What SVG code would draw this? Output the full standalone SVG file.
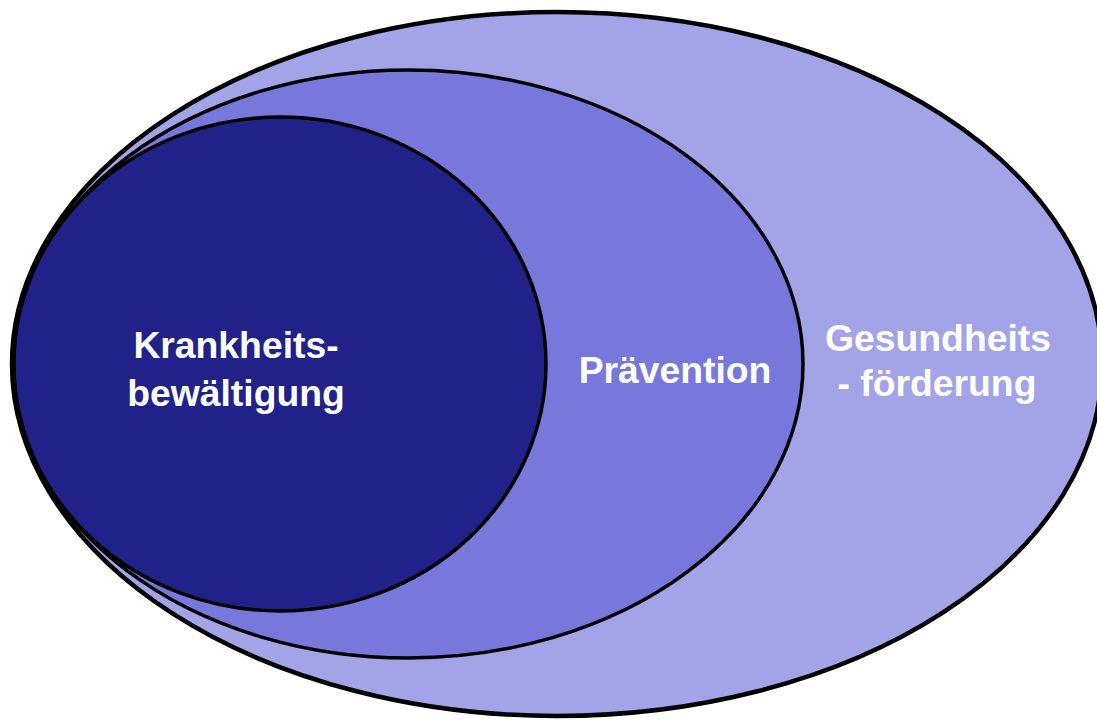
<svg xmlns="http://www.w3.org/2000/svg" width="1097" height="720" viewBox="0 0 1097 720">
<style>
.lbl{font-family:"Liberation Sans",Arial,sans-serif;font-weight:bold;font-size:37.3px;fill:#ffffff;text-anchor:middle}
.ring{stroke:#000000}
</style>
<rect width="1097" height="720" fill="#ffffff"/>
<g id="gesundheitsfoerderung">
<ellipse class="ring" cx="557" cy="364" rx="545" ry="352" fill="#A3A3E8" stroke-width="4.5"/>
<text class="lbl" x="938" y="351">Gesundheits</text>
<text class="lbl" x="937" y="396">- förderung</text>
</g>
<g id="praevention">
<ellipse class="ring" cx="408" cy="364" rx="395" ry="294" fill="#7878DC" stroke-width="3.5"/>
<text class="lbl" x="675" y="383">Prävention</text>
</g>
<g id="krankheitsbewaeltigung">
<ellipse class="ring" cx="280" cy="364" rx="266" ry="247" fill="#20228A" stroke-width="3.5"/>
<text class="lbl" x="236" y="358">Krankheits-</text>
<text class="lbl" x="236" y="406">bewältigung</text>
</g>
<g id="connectors"/>
</svg>
